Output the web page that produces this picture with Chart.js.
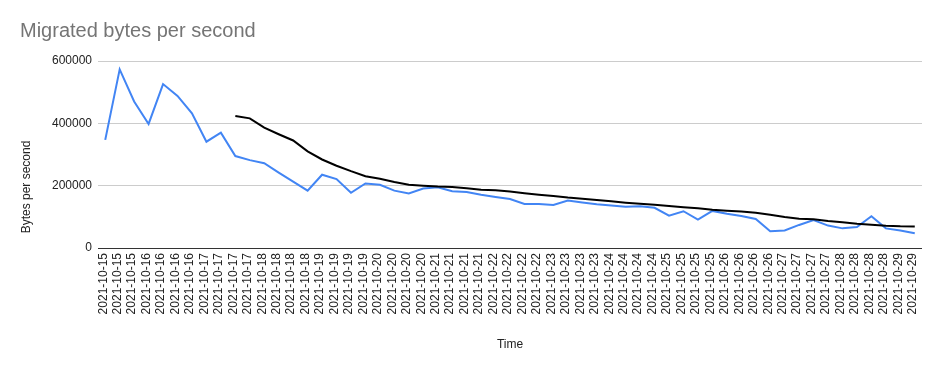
<!DOCTYPE html>
<html>
<head>
<meta charset="utf-8">
<script src="https://cdn.jsdelivr.net/npm/chart.js@4.4.1/dist/chart.umd.min.js"></script>
<style>
  html, body { margin: 0; padding: 0; background: #ffffff; }
  #wrap { width: 940px; height: 371px; }
</style>
</head>
<body>
<div id="wrap"><canvas id="c" width="940" height="371"></canvas></div>
<script>
const chartTitle = "Migrated bytes per second";
const xAxisTitle = "Time";
const yAxisTitle = "Bytes per second";

const categories = [
  "2021-10-15","2021-10-15","2021-10-15",
  "2021-10-16","2021-10-16","2021-10-16","2021-10-16",
  "2021-10-17","2021-10-17","2021-10-17","2021-10-17",
  "2021-10-18","2021-10-18","2021-10-18","2021-10-18",
  "2021-10-19","2021-10-19","2021-10-19","2021-10-19",
  "2021-10-20","2021-10-20","2021-10-20","2021-10-20",
  "2021-10-21","2021-10-21","2021-10-21","2021-10-21",
  "2021-10-22","2021-10-22","2021-10-22","2021-10-22",
  "2021-10-23","2021-10-23","2021-10-23","2021-10-23",
  "2021-10-24","2021-10-24","2021-10-24","2021-10-24",
  "2021-10-25","2021-10-25","2021-10-25","2021-10-25",
  "2021-10-26","2021-10-26","2021-10-26","2021-10-26",
  "2021-10-27","2021-10-27","2021-10-27","2021-10-27",
  "2021-10-28","2021-10-28","2021-10-28","2021-10-28",
  "2021-10-29","2021-10-29"
];

const bytesPerSecond = [
  347000, 573000, 470000, 398000, 526000, 488000, 432000, 341000, 370000, 295000,
  282000, 272000, 242000, 213000, 184000, 235000, 221000, 177000, 207000, 203000,
  184000, 175000, 191000, 195000, 182000, 180000, 171000, 164000, 157000, 141000,
  141000, 138000, 152000, 146000, 140000, 136000, 132000, 134000, 129000, 104000,
  118000, 91000, 119000, 110000, 103000, 93000, 54000, 56000, 74000, 90000,
  72000, 63000, 67000, 102000, 63000, 56000, 47000
];

const movingAverage = [
  null, null, null, null, null, null, null, null, null, 423500,
  416000, 386000, 365000, 345000, 310000, 284000, 264000, 246500, 230500, 222000,
  211500, 203000, 200000, 197000, 195500, 191500, 187000, 185000, 181000, 175500,
  171000, 167000, 162000, 158300, 154000, 149800, 145500, 142200, 139000, 134800,
  130600, 127400, 122900, 119700, 117500, 113300, 106900, 99500, 94000, 92000,
  86600, 82400, 78000, 74800, 71600, 69600, 69300
];

const yTicks = [0, 200000, 400000, 600000];

const FONT = '"Liberation Sans", Arial, Helvetica, sans-serif';
Chart.defaults.font.family = FONT;

const yTitlePlugin = {
  id: 'yTitlePlugin',
  afterDraw(chart) {
    const ctx = chart.ctx;
    ctx.save();
    ctx.translate(27, 187);
    ctx.rotate(-Math.PI / 2);
    ctx.font = '12px ' + FONT;
    ctx.fillStyle = '#222222';
    ctx.textAlign = 'center';
    ctx.textBaseline = 'middle';
    ctx.fillText(yAxisTitle, 0, 0);
    ctx.restore();
  }
};

new Chart(document.getElementById('c'), {
  type: 'line',
  data: {
    labels: categories,
    datasets: [
      {
        label: 'Moving average',
        data: movingAverage,
        borderColor: '#000000',
        borderWidth: 2,
        pointRadius: 0,
        tension: 0,
        fill: false,
        order: 0
      },
      {
        label: 'Bytes per second',
        data: bytesPerSecond,
        borderColor: '#4285F4',
        borderWidth: 2,
        pointRadius: 0,
        tension: 0,
        fill: false,
        order: 1
      }
    ]
  },
  options: {
    responsive: false,
    devicePixelRatio: 1,
    animation: false,
    layout: { padding: { left: 20, right: 18, top: 0, bottom: 0 } },
    plugins: {
      legend: { display: false },
      tooltip: { enabled: false },
      title: {
        display: true,
        text: chartTitle,
        align: 'start',
        color: '#757575',
        font: { size: 20, weight: 'normal', family: FONT },
        padding: { top: 19, bottom: 18 }
      }
    },
    scales: {
      x: {
        type: 'category',
        offset: true,
        grid: { display: false, drawTicks: false },
        border: { display: false },
        ticks: {
          autoSkip: false,
          maxRotation: 90,
          minRotation: 90,
          padding: 5,
          labelOffset: -2,
          color: '#222222',
          font: { size: 12, family: FONT }
        },
        title: {
          display: true,
          text: xAxisTitle,
          color: '#222222',
          font: { size: 12, family: FONT },
          padding: { top: 0, bottom: 19 }
        },
        afterFit(scale) { scale.height = 123; }
      },
      y: {
        min: 0,
        max: 600000,
        afterBuildTicks(scale) { scale.ticks = yTicks.map(v => ({ value: v })); },
        grid: {
          drawTicks: false,
          color: (c) => (c.tick && c.tick.value === 0) ? '#333333' : '#cccccc',
          lineWidth: 1
        },
        border: { display: false },
        ticks: {
          padding: 6,
          color: '#222222',
          font: { size: 12, family: FONT },
          callback: (v) => String(v)
        },
        afterFit(scale) { scale.width = 78; }
      }
    }
  },
  plugins: [yTitlePlugin]
});
</script>
</body>
</html>
